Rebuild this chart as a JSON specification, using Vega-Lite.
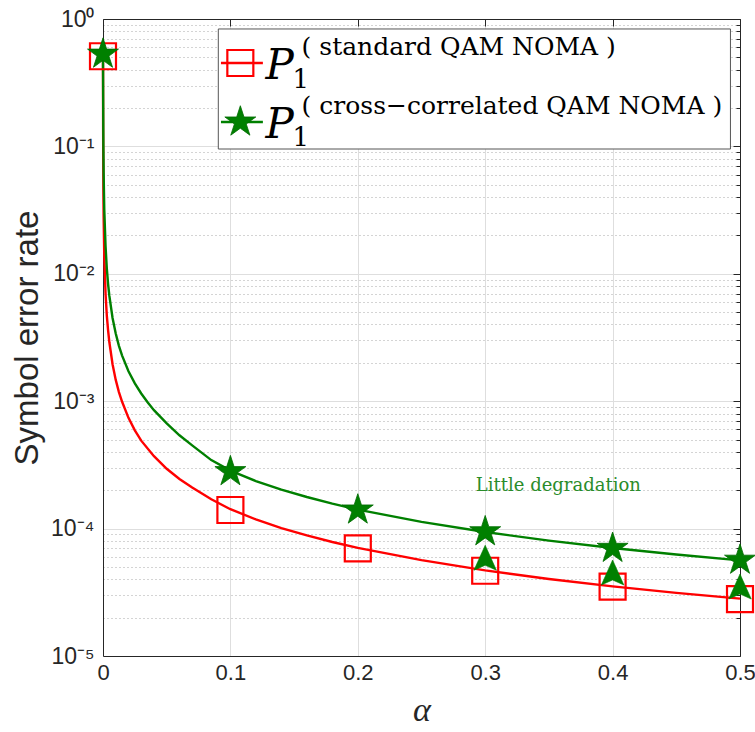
{
  "$schema": "https://vega.github.io/schema/vega-lite/v6.json",
  "width": 637,
  "height": 637,
  "autosize": {"type": "none"},
  "padding": {"left": 103, "top": 19, "right": 15, "bottom": 76},
  "background": "white",
  "config": {"view": {"stroke": null}},
  "datasets": {
    "curves": [
      {"series": "standard", "alpha": 0, "ser": 0.5},
      {"series": "standard", "alpha": 0.0001, "ser": 0.14},
      {"series": "standard", "alpha": 0.0003, "ser": 0.0467},
      {"series": "standard", "alpha": 0.0005, "ser": 0.028},
      {"series": "standard", "alpha": 0.001, "ser": 0.014},
      {"series": "standard", "alpha": 0.002, "ser": 0.007},
      {"series": "standard", "alpha": 0.003, "ser": 0.0047},
      {"series": "standard", "alpha": 0.004, "ser": 0.0036},
      {"series": "standard", "alpha": 0.005, "ser": 0.0029},
      {"series": "standard", "alpha": 0.0075, "ser": 0.00195},
      {"series": "standard", "alpha": 0.01, "ser": 0.00147},
      {"series": "standard", "alpha": 0.0125, "ser": 0.00118},
      {"series": "standard", "alpha": 0.015, "ser": 0.00099},
      {"series": "standard", "alpha": 0.02, "ser": 0.00074},
      {"series": "standard", "alpha": 0.025, "ser": 0.00059},
      {"series": "standard", "alpha": 0.03, "ser": 0.00049},
      {"series": "standard", "alpha": 0.04, "ser": 0.00037},
      {"series": "standard", "alpha": 0.05, "ser": 0.000295},
      {"series": "standard", "alpha": 0.06, "ser": 0.000245},
      {"series": "standard", "alpha": 0.07, "ser": 0.00021},
      {"series": "standard", "alpha": 0.085, "ser": 0.00017},
      {"series": "standard", "alpha": 0.1, "ser": 0.000142},
      {"series": "standard", "alpha": 0.12, "ser": 0.000118},
      {"series": "standard", "alpha": 0.14, "ser": 0.000101},
      {"series": "standard", "alpha": 0.16, "ser": 0.0000885},
      {"series": "standard", "alpha": 0.18, "ser": 0.0000785},
      {"series": "standard", "alpha": 0.2, "ser": 0.0000705},
      {"series": "standard", "alpha": 0.25, "ser": 0.0000565},
      {"series": "standard", "alpha": 0.3, "ser": 0.000047},
      {"series": "standard", "alpha": 0.35, "ser": 0.0000402},
      {"series": "standard", "alpha": 0.4, "ser": 0.0000352},
      {"series": "standard", "alpha": 0.45, "ser": 0.0000313},
      {"series": "standard", "alpha": 0.5, "ser": 0.0000282},
      {"series": "cross", "alpha": 0, "ser": 0.5},
      {"series": "cross", "alpha": 0.0001, "ser": 0.28},
      {"series": "cross", "alpha": 0.0003, "ser": 0.1},
      {"series": "cross", "alpha": 0.0005, "ser": 0.062},
      {"series": "cross", "alpha": 0.001, "ser": 0.032},
      {"series": "cross", "alpha": 0.002, "ser": 0.0165},
      {"series": "cross", "alpha": 0.003, "ser": 0.011},
      {"series": "cross", "alpha": 0.004, "ser": 0.0083},
      {"series": "cross", "alpha": 0.005, "ser": 0.0067},
      {"series": "cross", "alpha": 0.0075, "ser": 0.0045},
      {"series": "cross", "alpha": 0.01, "ser": 0.0034},
      {"series": "cross", "alpha": 0.0125, "ser": 0.00272},
      {"series": "cross", "alpha": 0.015, "ser": 0.00228},
      {"series": "cross", "alpha": 0.02, "ser": 0.00172},
      {"series": "cross", "alpha": 0.025, "ser": 0.00138},
      {"series": "cross", "alpha": 0.03, "ser": 0.00115},
      {"series": "cross", "alpha": 0.035, "ser": 0.00098},
      {"series": "cross", "alpha": 0.04, "ser": 0.00085},
      {"series": "cross", "alpha": 0.05, "ser": 0.00067},
      {"series": "cross", "alpha": 0.06, "ser": 0.00054},
      {"series": "cross", "alpha": 0.07, "ser": 0.00045},
      {"series": "cross", "alpha": 0.085, "ser": 0.000345},
      {"series": "cross", "alpha": 0.1, "ser": 0.000285},
      {"series": "cross", "alpha": 0.12, "ser": 0.000236},
      {"series": "cross", "alpha": 0.14, "ser": 0.000202},
      {"series": "cross", "alpha": 0.16, "ser": 0.000177},
      {"series": "cross", "alpha": 0.18, "ser": 0.000157},
      {"series": "cross", "alpha": 0.2, "ser": 0.000141},
      {"series": "cross", "alpha": 0.25, "ser": 0.000113},
      {"series": "cross", "alpha": 0.3, "ser": 0.000094},
      {"series": "cross", "alpha": 0.35, "ser": 0.0000805},
      {"series": "cross", "alpha": 0.4, "ser": 0.0000704},
      {"series": "cross", "alpha": 0.45, "ser": 0.0000626},
      {"series": "cross", "alpha": 0.5, "ser": 0.0000563}
    ],
    "markers": [
      {"series": "standard", "alpha": 0, "ser": 0.51},
      {"series": "standard", "alpha": 0.1, "ser": 0.00014},
      {"series": "standard", "alpha": 0.2, "ser": 0.00007},
      {"series": "standard", "alpha": 0.3, "ser": 0.0000467},
      {"series": "standard", "alpha": 0.4, "ser": 0.000035},
      {"series": "standard", "alpha": 0.5, "ser": 0.000028},
      {"series": "cross", "alpha": 0, "ser": 0.53},
      {"series": "cross", "alpha": 0.1, "ser": 0.00028},
      {"series": "cross", "alpha": 0.2, "ser": 0.00014},
      {"series": "cross", "alpha": 0.3, "ser": 0.0000945},
      {"series": "cross", "alpha": 0.4, "ser": 0.00007},
      {"series": "cross", "alpha": 0.5, "ser": 0.0000565}
    ],
    "arrows": [
      {"alpha": 0.3, "tip": 0.000074},
      {"alpha": 0.4, "tip": 0.0000567},
      {"alpha": 0.5, "tip": 0.000044}
    ],
    "legendbox": [{"a0": 0.0905, "a1": 0.4925, "s0": 0.835, "s1": 0.0954}],
    "legendlines": [
      {"series": "standard", "a0": 0.0926, "a1": 0.1255, "ser": 0.4515},
      {"series": "cross", "a0": 0.0926, "a1": 0.1255, "ser": 0.1554}
    ],
    "legendsym": [
      {"series": "standard", "alpha": 0.1078, "ser": 0.4515},
      {"series": "cross", "alpha": 0.1078, "ser": 0.1554}
    ],
    "legendtext": [
      {"part": "P", "alpha": 0.1275, "ser": 0.338, "text": "P"},
      {"part": "P", "alpha": 0.1275, "ser": 0.1164, "text": "P"},
      {"part": "sub", "alpha": 0.1487, "ser": 0.2873, "text": "1"},
      {"part": "sub", "alpha": 0.1487, "ser": 0.1007, "text": "1"},
      {"part": "sup", "alpha": 0.1559, "ser": 0.522, "text": "( standard QAM NOMA )"},
      {"part": "sup", "alpha": 0.1559, "ser": 0.1796, "text": "( cross−correlated QAM NOMA )"}
    ],
    "notes": [{"alpha": 0.3574, "ser": 0.000197, "text": "Little degradation"}]
  },
  "layer": [
    {
      "data": {"name": "curves"},
      "mark": {"type": "line", "strokeWidth": 2.4},
      "encoding": {
        "x": {
          "field": "alpha", "type": "quantitative",
          "scale": {"domain": [0, 0.5], "nice": false, "zero": false},
          "axis": {
            "orient": "bottom", "values": [0, 0.1, 0.2, 0.3, 0.4, 0.5], "format": "~g",
            "labelFont": "Liberation Sans", "labelFontSize": 22, "labelColor": "#262626",
            "labelPadding": 6, "labelFlush": false, "labelOverlap": false, "ticks": false,
            "domainColor": "#262626", "domainWidth": 1,
            "grid": true, "gridColor": "#dedede", "gridWidth": 1,
            "title": "α", "titleFont": "Liberation Serif", "titleFontStyle": "italic",
            "titleFontWeight": "normal", "titleFontSize": 34, "titleColor": "#262626",
            "titleX": 318.5, "titleY": 64, "titleBaseline": "alphabetic", "titleAlign": "center"
          }
        },
        "y": {
          "field": "ser", "type": "quantitative",
          "scale": {"type": "log", "domain": [0.00001, 1], "nice": false},
          "axis": {
            "orient": "left",
            "values": [0.00001, 0.00002, 0.00003, 0.00004, 0.00005, 0.00006, 0.00007, 0.00008, 0.00009,
                       0.0001, 0.0002, 0.0003, 0.0004, 0.0005, 0.0006, 0.0007, 0.0008, 0.0009,
                       0.001, 0.002, 0.003, 0.004, 0.005, 0.006, 0.007, 0.008, 0.009,
                       0.01, 0.02, 0.03, 0.04, 0.05, 0.06, 0.07, 0.08, 0.09,
                       0.1, 0.2, 0.3, 0.4, 0.5, 0.6, 0.7, 0.8, 0.9, 1],
            "labelExpr": "datum.value == 1 ? '10⁰' : datum.value == 0.1 ? '10⁻¹' : datum.value == 0.01 ? '10⁻²' : datum.value == 0.001 ? '10⁻³' : datum.value == 0.0001 ? '10⁻⁴' : datum.value == 0.00001 ? '10⁻⁵' : ''",
            "labelFont": "Liberation Sans", "labelFontSize": 23, "labelColor": "#262626",
            "labelPadding": 9, "labelFlush": false, "labelOverlap": false, "labelBound": false,
            "ticks": false, "domainColor": "#262626", "domainWidth": 1,
            "grid": true,
            "gridColor": {"condition": {"test": "datum.value == 1 || datum.value == 0.1 || datum.value == 0.01 || datum.value == 0.001 || datum.value == 0.0001 || datum.value == 0.00001", "value": "#dedede"}, "value": "#a8a8a8"},
            "gridDash": {"condition": {"test": "datum.value == 1 || datum.value == 0.1 || datum.value == 0.01 || datum.value == 0.001 || datum.value == 0.0001 || datum.value == 0.00001", "value": []}, "value": [1, 3]},
            "title": "Symbol error rate", "titleFont": "Liberation Sans", "titleFontSize": 33,
            "titleFontWeight": "normal", "titleColor": "#262626", "titleAngle": -90,
            "titleX": -66, "titleY": 318.5, "titleBaseline": "alphabetic", "titleAlign": "center"
          }
        },
        "color": {
          "field": "series", "type": "nominal",
          "scale": {"domain": ["standard", "cross"], "range": ["#ff0000", "#008000"]},
          "legend": null
        }
      }
    },
    {
      "data": {"name": "markers"},
      "transform": [{"filter": "datum.series == 'standard'"}],
      "mark": {"type": "point", "shape": "square", "size": 676, "filled": false, "stroke": "#ff0000", "strokeWidth": 2.2, "opacity": 1},
      "encoding": {
        "x": {
          "field": "alpha", "type": "quantitative",
          "axis": {"orient": "top", "values": [0, 0.1, 0.2, 0.3, 0.4, 0.5], "labels": false, "ticks": true,
                   "tickSize": -7, "tickColor": "#262626", "domainColor": "#262626", "grid": false, "title": null}
        },
        "y": {
          "field": "ser", "type": "quantitative",
          "axis": {
            "orient": "right", "labels": false, "ticks": true, "grid": false, "title": null,
            "values": [0.00001, 0.00002, 0.00003, 0.00004, 0.00005, 0.00006, 0.00007, 0.00008, 0.00009,
                       0.0001, 0.0002, 0.0003, 0.0004, 0.0005, 0.0006, 0.0007, 0.0008, 0.0009,
                       0.001, 0.002, 0.003, 0.004, 0.005, 0.006, 0.007, 0.008, 0.009,
                       0.01, 0.02, 0.03, 0.04, 0.05, 0.06, 0.07, 0.08, 0.09,
                       0.1, 0.2, 0.3, 0.4, 0.5, 0.6, 0.7, 0.8, 0.9, 1],
            "tickSize": {"condition": {"test": "datum.value == 1 || datum.value == 0.1 || datum.value == 0.01 || datum.value == 0.001 || datum.value == 0.0001 || datum.value == 0.00001", "value": -7}, "value": -4},
            "tickColor": "#262626", "domainColor": "#262626"
          }
        }
      }
    },
    {
      "data": {"name": "markers"},
      "transform": [{"filter": "datum.series == 'cross'"}],
      "mark": {"type": "point", "shape": "M0,-1L0.2245,-0.309L0.951,-0.309L0.363,0.118L0.588,0.809L0,0.382L-0.588,0.809L-0.363,0.118L-0.951,-0.309L-0.2245,-0.309Z", "size": 1060, "filled": true, "fill": "#008000", "stroke": "#006b00", "strokeWidth": 0.8, "opacity": 1},
      "encoding": {
        "x": {"field": "alpha", "type": "quantitative", "axis": null},
        "y": {"field": "ser", "type": "quantitative", "axis": null}
      }
    },
    {
      "data": {"name": "arrows"},
      "mark": {"type": "point", "shape": "M0,0L0.9,2L0,1.6L-0.9,2Z", "size": 625, "filled": true, "fill": "#008000", "stroke": "#008000", "strokeWidth": 0.6, "opacity": 1},
      "encoding": {
        "x": {"field": "alpha", "type": "quantitative", "axis": null},
        "y": {"field": "tip", "type": "quantitative", "axis": null}
      }
    },
    {
      "data": {"name": "legendbox"},
      "mark": {"type": "rect", "fill": "white", "stroke": "#555555", "strokeWidth": 1},
      "encoding": {
        "x": {"field": "a0", "type": "quantitative", "axis": null},
        "x2": {"field": "a1"},
        "y": {"field": "s0", "type": "quantitative", "axis": null},
        "y2": {"field": "s1"}
      }
    },
    {
      "data": {"name": "legendlines"},
      "mark": {"type": "rule", "strokeWidth": 2.4},
      "encoding": {
        "x": {"field": "a0", "type": "quantitative", "axis": null},
        "x2": {"field": "a1"},
        "y": {"field": "ser", "type": "quantitative", "axis": null},
        "color": {"field": "series", "type": "nominal", "legend": null}
      }
    },
    {
      "data": {"name": "legendsym"},
      "transform": [{"filter": "datum.series == 'standard'"}],
      "mark": {"type": "point", "shape": "square", "size": 676, "filled": false, "stroke": "#ff0000", "strokeWidth": 2.2, "opacity": 1},
      "encoding": {
        "x": {"field": "alpha", "type": "quantitative", "axis": null},
        "y": {"field": "ser", "type": "quantitative", "axis": null}
      }
    },
    {
      "data": {"name": "legendsym"},
      "transform": [{"filter": "datum.series == 'cross'"}],
      "mark": {"type": "point", "shape": "M0,-1L0.2245,-0.309L0.951,-0.309L0.363,0.118L0.588,0.809L0,0.382L-0.588,0.809L-0.363,0.118L-0.951,-0.309L-0.2245,-0.309Z", "size": 1060, "filled": true, "fill": "#008000", "stroke": "#006b00", "strokeWidth": 0.8, "opacity": 1},
      "encoding": {
        "x": {"field": "alpha", "type": "quantitative", "axis": null},
        "y": {"field": "ser", "type": "quantitative", "axis": null}
      }
    },
    {
      "data": {"name": "legendtext"},
      "transform": [{"filter": "datum.part == 'P'"}],
      "mark": {"type": "text", "font": "DejaVu Serif", "fontStyle": "italic", "fontSize": 42, "align": "left", "baseline": "alphabetic", "color": "#000000"},
      "encoding": {
        "x": {"field": "alpha", "type": "quantitative", "axis": null},
        "y": {"field": "ser", "type": "quantitative", "axis": null},
        "text": {"field": "text"}
      }
    },
    {
      "data": {"name": "legendtext"},
      "transform": [{"filter": "datum.part == 'sub'"}],
      "mark": {"type": "text", "font": "DejaVu Serif", "fontSize": 26, "align": "left", "baseline": "alphabetic", "color": "#000000"},
      "encoding": {
        "x": {"field": "alpha", "type": "quantitative", "axis": null},
        "y": {"field": "ser", "type": "quantitative", "axis": null},
        "text": {"field": "text"}
      }
    },
    {
      "data": {"name": "legendtext"},
      "transform": [{"filter": "datum.part == 'sup'"}],
      "mark": {"type": "text", "font": "DejaVu Serif", "fontSize": 25, "align": "left", "baseline": "alphabetic", "color": "#000000"},
      "encoding": {
        "x": {"field": "alpha", "type": "quantitative", "axis": null},
        "y": {"field": "ser", "type": "quantitative", "axis": null},
        "text": {"field": "text"}
      }
    },
    {
      "data": {"name": "notes"},
      "mark": {"type": "text", "font": "DejaVu Serif", "fontSize": 18, "align": "center", "baseline": "alphabetic", "color": "#2a8c2a"},
      "encoding": {
        "x": {"field": "alpha", "type": "quantitative", "axis": null},
        "y": {"field": "ser", "type": "quantitative", "axis": null},
        "text": {"field": "text"}
      }
    }
  ],
  "resolve": {"axis": {"x": "independent", "y": "independent"}}
}
